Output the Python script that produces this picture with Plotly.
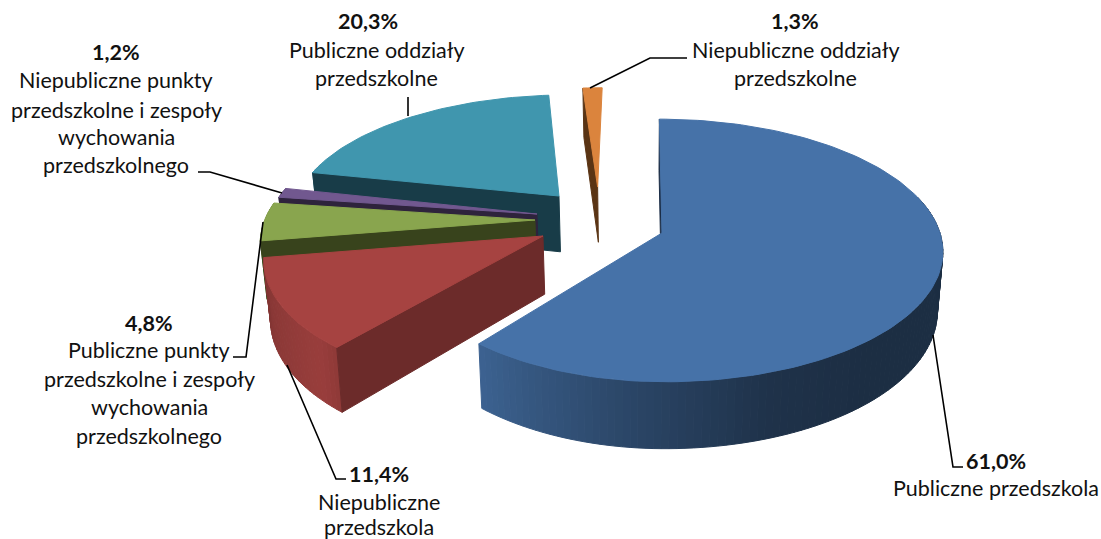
import numpy as np
import plotly.graph_objects as go

# ---- data ----
categories = ["Publiczne przedszkola", "Niepubliczne przedszkola",
              "Publiczne punkty przedszkolne i zespoły wychowania przedszkolnego",
              "Niepubliczne punkty przedszkolne i zespoły wychowania przedszkolnego",
              "Publiczne oddziały przedszkolne", "Niepubliczne oddziały przedszkolne"]
shares = [61.0, 11.4, 4.8, 1.2, 20.3, 1.3]
value_labels = ["61,0%", "11,4%", "4,8%", "1,2%", "20,3%", "1,3%"]

# ---- styles ----
top_colors = [(70, 114, 168), (166, 67, 65), (137, 165, 78), (113, 88, 143), (64, 150, 174), (219, 132, 61)]
cut_colors = [(27, 45, 70), (108, 43, 42), (56, 67, 28), (46, 35, 60), (24, 60, 72), (90, 52, 20)]
explode_x = [0.079, -0.348, -0.383, -0.378, -0.303, -0.16]
explode_y = [0.0, -0.0232, 0.102, 0.150, 0.298, 0.374]
left_squeeze = [0.94, 0.985, 0.985, 0.98, 0.975, 1.0]
back_squeeze = [1.0, 1.0, 1.0, 1.0, 0.95, 0.95]

# ---- projection (tilted, perspective pie) ----
VX, Y0, RX, RY, K, DEPTH, CONV = 640, 233, 278, 129, 0.133, 58, 0.018


def project(gx, gy, down=0.0):
    s = 1 / (1 + K * gy)
    sx = VX + RX * gx * s
    sy = Y0 - RY * gy * s
    if down:
        sx = sx + (VX - sx) * CONV
        sy = sy + DEPTH * s
    return sx, sy


def rgb(c):
    return "rgb(%d,%d,%d)" % tuple(int(round(v)) for v in c)


def poly(fig, xs, ys, color):
    fig.add_trace(go.Scatter(x=list(xs) + [xs[0]], y=list(ys) + [ys[0]], mode="lines", fill="toself",
                             fillcolor=color, line=dict(color=color, width=1),
                             hoverinfo="skip", showlegend=False))


def shade(theta):
    return np.interp(theta, [0, 140, 161, 188, 219.6, 225, 261, 360],
                     [0.40, 0.40, 0.44, 0.62, 0.86, 0.92, 0.78, 0.78])


fig = go.Figure()
edges = np.concatenate([[0], np.cumsum(shares)]) * 3.6
for i in [4, 5, 3, 2, 1, 0]:
    a0, a1 = edges[i], edges[i + 1]
    ox, oy = explode_x[i], explode_y[i]
    theta = np.linspace(a0, a1, max(4, int((a1 - a0) / 1.5) + 2))
    sx_unit = np.sin(np.radians(theta))
    cy_unit = np.cos(np.radians(theta))
    gx = ox + np.where(sx_unit < 0, sx_unit * left_squeeze[i], sx_unit)
    gy = oy + np.where(cy_unit > 0, cy_unit * back_squeeze[i], cy_unit)
    tx, ty = project(gx, gy)
    bx, by = project(gx, gy, down=1)
    cx, cy = project(ox, oy)
    cbx, cby = project(ox, oy, down=1)
    reflex = (a1 - a0) > 180
    cut_x = [cx, tx[0], bx[0], cbx]
    cut_y = [cy, ty[0], by[0], cby]
    if reflex:
        poly(fig, cut_x, cut_y, rgb(cut_colors[i]))
    for j in range(len(theta) - 1):
        mid = (theta[j] + theta[j + 1]) / 2
        if np.cos(np.radians(mid)) > 0.3:  # rim facing away from the viewer
            continue
        col = tuple(v * shade(mid) for v in top_colors[i])
        poly(fig, [tx[j], tx[j + 1], bx[j + 1], bx[j]], [ty[j], ty[j + 1], by[j + 1], by[j]], rgb(col))
    if not reflex:
        poly(fig, cut_x, cut_y, rgb(cut_colors[i]))
    poly(fig, [cx] + list(tx), [cy] + list(ty), rgb(top_colors[i]))

# ---- labels ----
label_lines = [
    (0, 996, [461, 488], ["Publiczne przedszkola"]),
    (1, 379, [474, 502, 527], ["Niepubliczne", "przedszkola"]),
    (2, 149, [323, 350, 379, 407, 436], ["Publiczne punkty", "przedszkolne i zespoły", "wychowania", "przedszkolnego"]),
    (3, 116, [52, 80, 110, 137, 165], ["Niepubliczne punkty", "przedszkolne i zespoły", "wychowania", "przedszkolnego"]),
    (4, 376, [21, 50, 78], ["Publiczne oddziały", "przedszkolne"]),
    (5, 795, [21, 50, 78], ["Niepubliczne oddziały", "przedszkolne"]),
]
FONT = "Lato"
SIZE = 21.5
annos = []
for idx, cx, ys, lines in label_lines:
    bx = cx - 8 if idx == 4 else cx
    annos.append(dict(x=bx, y=ys[0], text="<b>%s</b>" % value_labels[idx], showarrow=False, xanchor="center",
                      yanchor="middle", font=dict(family=FONT, size=SIZE, color="#111111")))
    for y, t in zip(ys[1:], lines):
        annos.append(dict(x=cx, y=y, text=t, showarrow=False, xanchor="center", yanchor="middle",
                          font=dict(family=FONT, size=SIZE, color="#111111")))

leaders_x = [[933, 953, 963], [287, 336, 346], [263, 246, 233], [282, 210, 198], [408, 408], [590, 650, 687]]
leaders_y = [[335, 467, 467], [365, 479, 479], [222, 357, 357], [193, 172, 172], [97, 116], [88, 58, 58]]
for lx, ly in zip(leaders_x, leaders_y):
    fig.add_trace(go.Scatter(x=lx, y=ly, mode="lines", line=dict(color="black", width=1.6),
                             hoverinfo="skip", showlegend=False))

fig.update_layout(width=1101, height=539, margin=dict(l=0, r=0, t=0, b=0), paper_bgcolor="white",
                  plot_bgcolor="white", annotations=annos, showlegend=False,
                  xaxis=dict(range=[0, 1101], visible=False, fixedrange=True),
                  yaxis=dict(range=[539, 0], visible=False, fixedrange=True))
fig.write_html("out.html", config=dict(displayModeBar=False),
               post_script="document.body.style.margin='0';document.body.style.overflow='hidden';")
